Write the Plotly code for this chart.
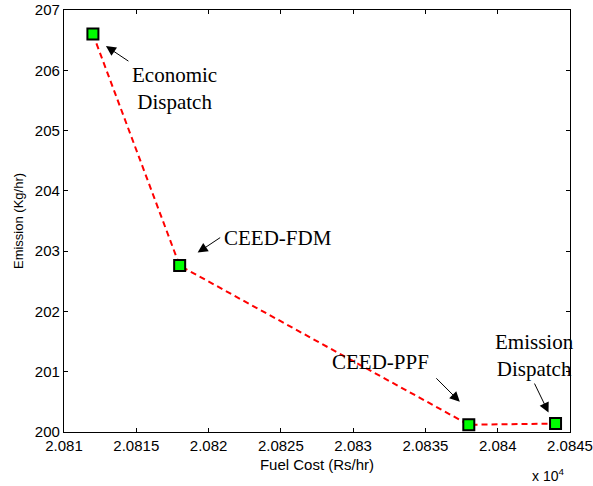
import plotly.graph_objects as go

# Data
fuel_cost = [20812, 20818, 20838, 20844]          # Rs/hr
emission = [206.6, 202.76, 200.12, 200.14]        # Kg/hr
point_labels = ["Economic<br>Dispatch", "CEED-FDM", "CEED-PPF", "Emission<br>Dispatch"]

x_tickvals = [20810, 20815, 20820, 20825, 20830, 20835, 20840, 20845]
x_ticktext = ["2.081", "2.0815", "2.082", "2.0825", "2.083", "2.0835", "2.084", "2.0845"]
y_tickvals = [200, 201, 202, 203, 204, 205, 206, 207]

fig = go.Figure()
fig.add_trace(go.Scatter(
    x=fuel_cost, y=emission, mode="lines+markers",
    line=dict(color="#ff0000", width=2, dash="6px,4px"),
    marker=dict(symbol="square", size=11, color="#00ff00",
                line=dict(color="black", width=2)),
    showlegend=False, cliponaxis=False,
))

# arrow (tip offset from point, tail offset from tip), text offset from point
arrow_cfg = [
    dict(xs=13, ys=-12, ax=24, ay=16, tx=82, ty=-54),
    dict(xs=18, ys=13, ax=24, ay=-16, tx=98, ty=28),
    dict(xs=-9, ys=23, ax=-25, ay=-25, tx=-88, ty=63),
    dict(xs=-7, ys=11, ax=-15, ay=-31, tx=-21, ty=68),
]
serif = dict(family="Liberation Serif, Times New Roman, serif", size=21, color="black")
for xv, yv, lab, c in zip(fuel_cost, emission, point_labels, arrow_cfg):
    fig.add_annotation(x=xv, y=yv, xref="x", yref="y", text=" ",
                       showarrow=True, arrowhead=2, arrowsize=2, arrowwidth=1,
                       arrowcolor="black", ax=c["ax"], ay=c["ay"],
                       xshift=c["xs"], yshift=c["ys"], standoff=0, startstandoff=0,
                       font=dict(size=1))
    fig.add_annotation(x=xv, y=yv, xref="x", yref="y", text=lab, showarrow=False,
                       xshift=c["tx"], yshift=c["ty"], font=serif, align="center")

fig.add_annotation(xref="paper", yref="paper", x=1, y=0, xanchor="right", yanchor="top",
                   xshift=-4, yshift=-32, showarrow=False, text="x 10<sup>4</sup>",
                   font=dict(family="Liberation Sans, Arial, sans-serif", size=14, color="black"))

axis_common = dict(showline=True, linecolor="black", linewidth=1.3, mirror="ticks",
                   ticks="inside", ticklen=4, tickcolor="black", tickwidth=1,
                   showgrid=False, zeroline=False, automargin=False,
                   tickfont=dict(family="Liberation Sans, Arial, sans-serif", size=15, color="black"))

fig.update_xaxes(range=[20810, 20845], tickvals=x_tickvals, ticktext=x_ticktext,
                 title=dict(text="Fuel Cost (Rs/hr)", standoff=6,
                            font=dict(family="Liberation Sans, Arial, sans-serif", size=15, color="black")),
                 **axis_common)
fig.update_yaxes(range=[200, 207], tickvals=y_tickvals,
                 title=dict(text="Emission (Kg/hr)", standoff=8,
                            font=dict(family="Liberation Sans, Arial, sans-serif", size=13, color="black")),
                 **axis_common)

fig.update_layout(width=593, height=486, margin=dict(l=64, r=23, t=10, b=54),
                  plot_bgcolor="white", paper_bgcolor="white")

fig.write_html("out.html")
